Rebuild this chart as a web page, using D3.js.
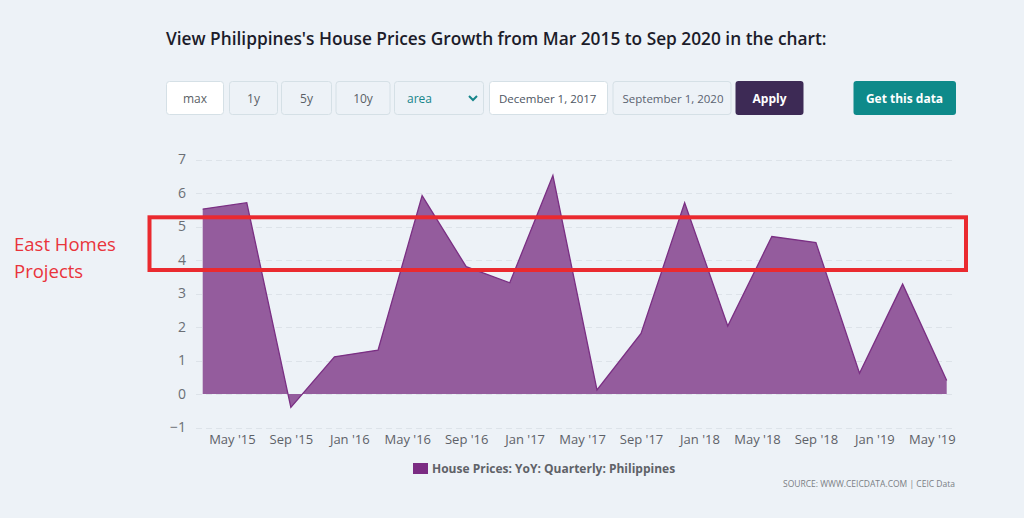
<!DOCTYPE html>
<html>
<head>
<meta charset="utf-8">
<script src="https://cdn.jsdelivr.net/npm/d3@7"></script>
<style>
  html, body { margin: 0; padding: 0; background: #edf2f7; }
  svg { display: block; }
</style>
</head>
<body>
<svg id="chart" width="1024" height="518"></svg>
<script>
// ---- data ----
const dates = ["2015-03-01","2015-06-01","2015-09-01","2015-12-01","2016-03-01","2016-06-01",
  "2016-09-01","2016-12-01","2017-03-01","2017-06-01","2017-09-01","2017-12-01",
  "2018-03-01","2018-06-01","2018-09-01","2018-12-01","2019-03-01","2019-06-01"];
const values = [5.52, 5.71, -0.40, 1.11, 1.31, 5.92, 3.80, 3.32, 6.52, 0.12, 1.81, 5.71,
  2.03, 4.70, 4.52, 0.62, 3.28, 0.40];
const yTicks = [-1, 0, 1, 2, 3, 4, 5, 6, 7];
const seriesName = "House Prices: YoY: Quarterly: Philippines";
const titleText = "View Philippines's House Prices Growth from Mar 2015 to Sep 2020 in the chart:";
const buttons = ["max", "1y", "5y", "10y"];
const chartType = "area";
const dateFrom = "December 1, 2017";
const dateTo = "September 1, 2020";
const sourceText = "SOURCE: WWW.CEICDATA.COM | CEIC Data";
const noteLines = ["East Homes", "Projects"];

const parse = d3.timeParse("%Y-%m-%d");
const data = dates.map((d, i) => ({ date: parse(d), value: values[i] }));

const svg = d3.select("#chart");
const FONT = "'Open Sans', 'Noto Sans', sans-serif";

svg.append("rect").attr("width", 1024).attr("height", 518).attr("fill", "#edf2f7");

// title
svg.append("text").attr("x", 166).attr("y", 45)
  .attr("font-family", FONT).attr("font-size", 17.3).attr("font-weight", 600)
  .attr("fill", "#1c1c2a").text(titleText);

// controls
const ctl = svg.append("g").attr("font-family", FONT);
const btnBoxes = [[166.5, 57], [229.5, 48], [281.5, 50], [336, 54]];
buttons.forEach((b, i) => {
  const [x, w] = btnBoxes[i];
  ctl.append("rect").attr("x", x).attr("y", 81.5).attr("width", w).attr("height", 33)
    .attr("rx", 3).attr("fill", i === 0 ? "#ffffff" : "#edf2f7")
    .attr("stroke", "#d5e0e6").attr("stroke-width", 1);
  ctl.append("text").attr("x", x + w / 2).attr("y", 102.5).attr("text-anchor", "middle")
    .attr("font-size", 12).attr("fill", "#5a5f66").text(b);
});
// select
ctl.append("rect").attr("x", 394.5).attr("y", 81.5).attr("width", 89).attr("height", 33)
  .attr("rx", 3).attr("fill", "#edf2f7").attr("stroke", "#d5e0e6");
ctl.append("text").attr("x", 407).attr("y", 102.5).attr("font-size", 12)
  .attr("fill", "#16858a").text(chartType);
ctl.append("path").attr("d", "M469,96 L473,100 L477,96").attr("fill", "none")
  .attr("stroke", "#16858a").attr("stroke-width", 2);
// date inputs
ctl.append("rect").attr("x", 489.5).attr("y", 81.5).attr("width", 118).attr("height", 33)
  .attr("rx", 3).attr("fill", "#ffffff").attr("stroke", "#d5e0e6");
ctl.append("text").attr("x", 499).attr("y", 102.5).attr("font-size", 11.5)
  .attr("fill", "#4d5562").text(dateFrom);
ctl.append("rect").attr("x", 613).attr("y", 81.5).attr("width", 118).attr("height", 33)
  .attr("rx", 3).attr("fill", "#edf2f7").attr("stroke", "#d5e0e6");
ctl.append("text").attr("x", 622.5).attr("y", 102.5).attr("font-size", 11.5)
  .attr("fill", "#5a6270").text(dateTo);
// apply
ctl.append("rect").attr("x", 735.5).attr("y", 81).attr("width", 68).attr("height", 34)
  .attr("rx", 3).attr("fill", "#3d2a55");
ctl.append("text").attr("x", 769.5).attr("y", 103).attr("text-anchor", "middle")
  .attr("font-size", 12).attr("font-weight", 700).attr("fill", "#ffffff").text("Apply");
// get data
ctl.append("rect").attr("x", 853.5).attr("y", 81).attr("width", 102.5).attr("height", 34)
  .attr("rx", 3).attr("fill", "#0e8a8a");
ctl.append("text").attr("x", 904.5).attr("y", 103).attr("text-anchor", "middle")
  .attr("font-size", 12).attr("font-weight", 700).attr("fill", "#ffffff").text("Get this data");

// scales
const x = d3.scaleTime()
  .domain(d3.extent(data, d => d.date))
  .range([202.7, 946.7]);
const y = d3.scaleLinear().domain([-1, 7]).range([427.5, 159.5]);

const gridLeft = 196, gridRight = 955;

// grid lines
svg.append("g").selectAll("line").data(yTicks).join("line")
  .attr("x1", gridLeft).attr("x2", gridRight)
  .attr("y1", d => Math.round(y(d)) + 0.5).attr("y2", d => Math.round(y(d)) + 0.5)
  .attr("stroke", "#dde3e9").attr("stroke-width", 1).attr("stroke-dasharray", "6,4");

// y axis labels
const yAxis = d3.axisLeft(y).tickValues(yTicks).tickSize(0).tickPadding(0)
  .tickFormat(d => d < 0 ? "\u2212" + Math.abs(d) : String(d));
const gy = svg.append("g").attr("transform", "translate(186,0)").call(yAxis);
gy.select(".domain").remove();
gy.selectAll("text").attr("font-family", FONT).attr("font-size", 14).attr("fill", "#6b6f75");

// x axis
const xAxis = d3.axisBottom(x).ticks(d3.timeMonth.every(4)).tickSize(0).tickPadding(0)
  .tickFormat(d3.timeFormat("%b '%y"));
const gx = svg.append("g").attr("transform", "translate(0,435)").call(xAxis);
gx.select(".domain").remove();
gx.selectAll("text").attr("font-family", FONT).attr("font-size", 13).attr("fill", "#5d6168");

// area
const area = d3.area().x(d => x(d.date)).y0(y(0)).y1(d => y(d.value));
const line = d3.line().x(d => x(d.date)).y(d => y(d.value));
svg.append("path").datum(data).attr("d", area).attr("fill", "#945c9d");
svg.append("path").datum(data).attr("d", line).attr("fill", "none")
  .attr("stroke", "#7a2f83").attr("stroke-width", 1.3);

// legend
svg.append("rect").attr("x", 413).attr("y", 463).attr("width", 15).attr("height", 11)
  .attr("fill", "#7b2c83");
svg.append("text").attr("x", 432).attr("y", 473).attr("font-family", FONT)
  .attr("font-size", 12).attr("font-weight", 700).attr("fill", "#5f6268").text(seriesName);

// source
svg.append("text").attr("x", 955).attr("y", 487).attr("text-anchor", "end")
  .attr("font-family", FONT).attr("font-size", 8.5).attr("fill", "#7a7e84").text(sourceText);

// annotation
svg.append("rect").attr("x", 149.5).attr("y", 217.3).attr("width", 816.5).attr("height", 52.7)
  .attr("fill", "none").attr("stroke", "#ea2a2f").attr("stroke-width", 4);
svg.append("text").attr("font-family", FONT).attr("font-size", 18.5).attr("fill", "#e9343b")
  .selectAll("tspan").data(noteLines).join("tspan")
  .attr("x", 14).attr("y", (d, i) => 251 + i * 27).text(d => d);
</script>
</body>
</html>
